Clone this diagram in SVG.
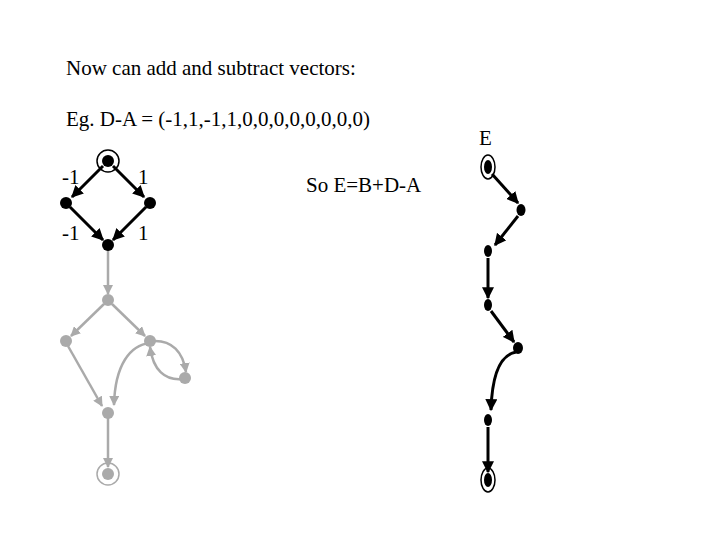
<svg xmlns="http://www.w3.org/2000/svg" width="720" height="540" viewBox="0 0 720 540">
<style>
.b{fill:#000}.g{fill:#aaa}
.eb{stroke:#000;stroke-width:3;fill:none}
.eg{stroke:#aaa;stroke-width:2.5;fill:none}
</style>
<defs>
<marker id="ab" viewBox="0 0 10 10" refX="9" refY="5" markerWidth="4" markerHeight="4" orient="auto"><path d="M0,0L10,5L0,10z" fill="#000"/></marker>
<marker id="ag" viewBox="0 0 10 10" refX="9" refY="5" markerWidth="4" markerHeight="4" orient="auto"><path d="M0,0L10,5L0,10z" fill="#aaa"/></marker>
</defs>
<rect width="720" height="540" fill="#fff"/>
<g font-family="Liberation Serif, Times New Roman, serif" font-size="21" fill="#000">
<text x="66" y="75">Now can add and subtract vectors:</text>
<text x="66" y="126">Eg. D-A = (-1,1,-1,1,0,0,0,0,0,0,0,0)</text>
<text x="306" y="192">So E=B+D-A</text>
<text x="479" y="145">E</text>
<text x="62" y="184">-1</text><text x="138" y="184">1</text>
<text x="62" y="240">-1</text><text x="138" y="240">1</text>
</g>
<g id="connectors">
<path class="eb" d="M103,166L72,197" marker-end="url(#ab)"/>
<path class="eb" d="M113,166L144,197" marker-end="url(#ab)"/>
<path class="eb" d="M70,207L103,240" marker-end="url(#ab)"/>
<path class="eb" d="M146,207L113,240" marker-end="url(#ab)"/>
<path class="eg" d="M108,250L108,294" marker-end="url(#ag)"/>
<path class="eg" d="M104,304L71,336" marker-end="url(#ag)"/>
<path class="eg" d="M112,304L145,336" marker-end="url(#ag)"/>
<path class="eg" d="M68,346L102,406" marker-end="url(#ag)"/>
<path class="eg" d="M150,343C130,345 115,365 114,405" marker-end="url(#ag)"/>
<path class="eg" d="M153,341C172,340 183,352 186,372" marker-end="url(#ag)"/>
<path class="eg" d="M183,379C165,381 153,370 150,347" marker-end="url(#ag)"/>
<path class="eg" d="M108,418L108,467" marker-end="url(#ag)"/>
<path class="eb" d="M492,174L518,203" marker-end="url(#ab)"/>
<path class="eb" d="M518,216L495,245" marker-end="url(#ab)"/>
<path class="eb" d="M488,258L488,298" marker-end="url(#ab)"/>
<path class="eb" d="M491,311L514,342" marker-end="url(#ab)"/>
<path class="eb" d="M516,352C500,355 492,375 491,410" marker-end="url(#ab)"/>
<path class="eb" d="M488,427L488,472" marker-end="url(#ab)"/>
</g>
<g id="nA"><circle cx="108" cy="161" r="11" fill="none" stroke="#000" stroke-width="1.5"/><circle class="b" cx="108" cy="161" r="6"/></g>
<g id="nB"><circle class="b" cx="66" cy="203" r="6"/></g>
<g id="nC"><circle class="b" cx="150" cy="203" r="6"/></g>
<g id="nD"><circle class="b" cx="108" cy="245" r="6"/></g>
<g id="g1"><circle class="g" cx="108" cy="300" r="6"/></g>
<g id="g2"><circle class="g" cx="66" cy="341" r="6"/></g>
<g id="g3"><circle class="g" cx="150" cy="341" r="6"/></g>
<g id="g4"><circle class="g" cx="185" cy="378" r="6"/></g>
<g id="g5"><circle class="g" cx="108" cy="413" r="6"/></g>
<g id="g6"><circle cx="108" cy="474" r="11" fill="none" stroke="#aaa" stroke-width="1.5"/><circle class="g" cx="108" cy="474" r="6"/></g>
<g id="e1"><ellipse cx="488" cy="167" rx="7" ry="12" fill="none" stroke="#000" stroke-width="1.5"/><ellipse class="b" cx="488" cy="167" rx="4" ry="7"/></g>
<g id="e2"><ellipse class="b" cx="521" cy="210" rx="4.5" ry="6"/></g>
<g id="e3"><ellipse class="b" cx="488" cy="251" rx="4" ry="6"/></g>
<g id="e4"><ellipse class="b" cx="488" cy="305" rx="4" ry="6"/></g>
<g id="e5"><ellipse class="b" cx="518" cy="348" rx="5" ry="6"/></g>
<g id="e6"><ellipse class="b" cx="488" cy="420" rx="4" ry="6"/></g>
<g id="e7"><ellipse cx="488" cy="480" rx="7" ry="12" fill="none" stroke="#000" stroke-width="1.5"/><ellipse class="b" cx="488" cy="480" rx="4" ry="7"/></g>
</svg>
